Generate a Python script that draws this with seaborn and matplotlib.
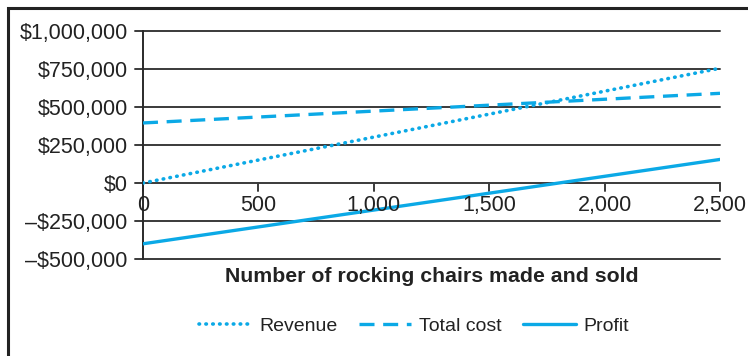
import matplotlib
matplotlib.use("Agg")
import matplotlib.pyplot as plt
import matplotlib.patches as mpatches
from matplotlib.ticker import FuncFormatter
import pandas as pd
import seaborn as sns

# Break-even data for rocking chairs
units = [0, 2500]
revenue = [0, 755000]
total_cost = [395000, 590000]
profit = [-400000, 155000]

series_names = ["Revenue", "Total cost", "Profit"]
y_ticks = [-500000, -250000, 0, 250000, 500000, 750000, 1000000]
x_ticks = [0, 500, 1000, 1500, 2000, 2500]

df = pd.DataFrame({
    "units": units * 3,
    "value": revenue + total_cost + profit,
    "series": [s for s in series_names for _ in units],
})

sns.set_theme(style="white")
plt.rcParams["font.family"] = ["Liberation Sans", "DejaVu Sans"]

W, H, DPI = 748, 356, 100
fig = plt.figure(figsize=(W / DPI, H / DPI), dpi=DPI)
ax = fig.add_axes([143 / W, 1 - 259 / H, (720 - 143) / W, (259 - 31) / H])

blue = "#0BA9E6"
dot_pattern = (0.15, 1.75)
dash_pattern = (4.5, 2.6)
sns.lineplot(
    data=df, x="units", y="value", hue="series", style="series",
    palette={s: blue for s in series_names},
    dashes={"Revenue": dot_pattern, "Total cost": dash_pattern, "Profit": ""},
    linewidth=2.4, legend=False, ax=ax, zorder=3,
)
for line, name in zip(ax.lines, series_names):
    if name == "Revenue":
        line.set_dash_capstyle("round")
        line.set_linewidth(2.6)

ax.set_xlim(0, 2500)
ax.set_ylim(-500000, 1000000)
ax.set_yticks(y_ticks)
ax.yaxis.set_major_formatter(FuncFormatter(
    lambda v, p: ("\u2013$" if v < 0 else "$") + f"{abs(int(v)):,}"))

# horizontal gridlines
for yv in y_ticks:
    ax.axhline(yv, xmin=-0.014, xmax=1, color="#3a3a3a", lw=1.4,
               clip_on=False, zorder=1)

for s in ["top", "right", "bottom"]:
    ax.spines[s].set_visible(False)
ax.spines["left"].set_color("#2a2a2a")
ax.spines["left"].set_linewidth(1.4)
ax.tick_params(axis="y", length=0, labelsize=15.5, labelcolor="#222222", pad=11)

# x axis drawn along the zero line
ax.set_xticks([])
for xv in x_ticks:
    ax.plot([xv, xv], [0, -52000], color="#3a3a3a", lw=1.4,
            clip_on=False, zorder=2)
    ax.text(xv, -145000, f"{xv:,}", ha="center", va="center",
            fontsize=15.5, color="#222222", zorder=4)

ax.set_xlabel("Number of rocking chairs made and sold", fontsize=15.3,
              fontweight="bold", color="#222222")
ax.set_ylabel("")
ax.xaxis.set_label_coords(0.5, -0.035)

# legend
handles = [
    plt.Line2D([], [], color=blue, lw=2.6, linestyle=(0, dot_pattern),
               dash_capstyle="round"),
    plt.Line2D([], [], color=blue, lw=2.4, linestyle=(0, dash_pattern)),
    plt.Line2D([], [], color=blue, lw=2.4),
]
fig.legend(handles, series_names, loc="center", bbox_to_anchor=(414 / W, 1 - 326 / H),
           ncol=3, frameon=False, fontsize=14, handlelength=2.7,
           columnspacing=1.1, handletextpad=0.4, labelcolor="#222222")

# outer frame
fig.patches.append(mpatches.Rectangle(
    (8 / W, -0.1), 1.2, 1 - 8 / H + 0.1, transform=fig.transFigure,
    fill=False, edgecolor="#222222", lw=2.2))

fig.savefig("out.png", dpi=DPI)
